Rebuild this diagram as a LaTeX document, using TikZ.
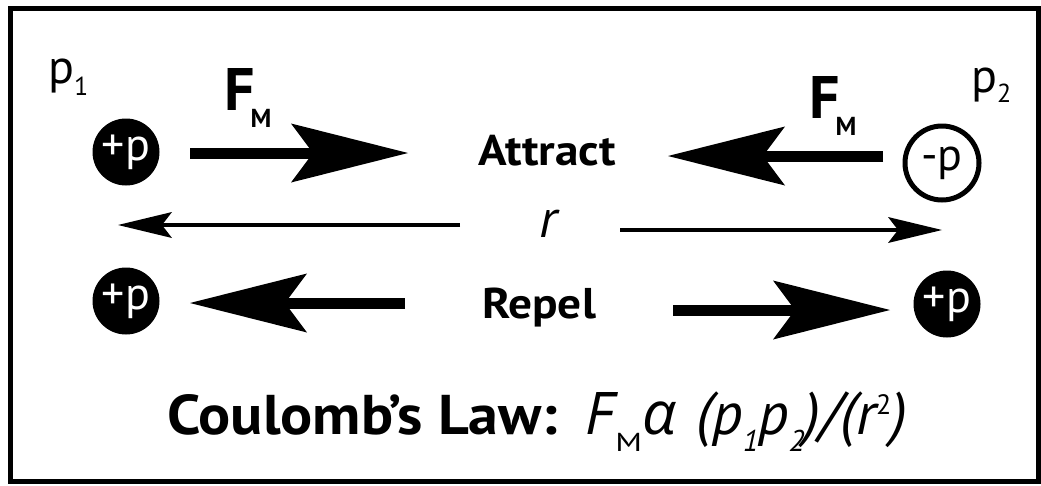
\documentclass[tikz,border=0pt]{standalone}
\usepackage{fontspec}
\setmainfont{PT Sans}
\newfontfamily\grk{Open Sans}
\usetikzlibrary{arrows.meta}
\tikzset{
  bigarrow/.style={line width=11pt, -{Stealth[length=117pt,width=59pt,inset=22pt,line width=0pt]}},
  thinarrow/.style={line width=4.5pt, -{Stealth[length=54pt,width=26pt,inset=10pt,line width=0pt]}},
  poscharge/.style={circle, fill=black, text=white, minimum size=67pt, inner sep=0pt, font=\fontsize{46}{46}\selectfont},
  negcharge/.style={circle, draw=black, line width=5pt, minimum size=74pt, inner sep=0pt, font=\fontsize{46}{46}\selectfont},
  lbl/.style={inner sep=0pt, anchor=base, font=\bfseries\fontsize{43}{45}\selectfont},
  plabel/.style={inner sep=0pt, anchor=base west, font=\fontsize{48}{50}\selectfont},
  flabel/.style={inner sep=0pt, anchor=base west, font=\bfseries\fontsize{60}{60}\selectfont},
}
\newcommand{\subM}{\kern-4pt\raisebox{-17pt}{\fontsize{26}{26}\selectfont M}}
\begin{document}
\begin{tikzpicture}[x=1pt,y=-1pt]
\useasboundingbox (0,0) rectangle (1041,485);
\draw[line width=5pt] (10.5,8) rectangle (1038.5,481);
% charges
\node[poscharge] (c1) at (126,152) {+p};
\node[negcharge] (c2) at (942,163) {-p};
\node[poscharge] (c3) at (126,301) {+p};
\node[poscharge] (c4) at (947,304) {+p};
% labels
\node[plabel] (lp1) at (48,83) {p\raisebox{-12pt}{\fontsize{26}{26}\selectfont 1}};
\node[plabel] (lp2) at (971,92) {p\raisebox{-10pt}{\fontsize{26}{26}\selectfont 2}};
\node[flabel] (f1) at (224,110) {F\subM};
\node[flabel] (f2) at (809,118) {F\subM};
\node[lbl] (att) at (547,165) {\scalebox{1.1}[1]{Attract}};
\node[lbl] (rep) at (539,318) {\scalebox{1.1}[1]{Repel}};
\node[inner sep=0pt, anchor=base, font=\itshape\fontsize{54}{54}\selectfont] (r) at (548,237) {r};
% arrows
\coordinate (a1s) at (190,153); \coordinate (a1e) at (408,153);
\coordinate (a2s) at (883,156); \coordinate (a2e) at (668,156);
\coordinate (r1s) at (460,225); \coordinate (r1e) at (118,225);
\coordinate (r2s) at (620,230); \coordinate (r2e) at (942,230);
\coordinate (b1s) at (405,303); \coordinate (b1e) at (190,303);
\coordinate (b2s) at (673,310); \coordinate (b2e) at (890,310);
\draw[bigarrow] (a1s) -- (a1e);
\draw[bigarrow] (a2s) -- (a2e);
\draw[thinarrow] (r1s) -- (r1e);
\draw[thinarrow] (r2s) -- (r2e);
\draw[bigarrow] (b1s) -- (b1e);
\draw[bigarrow] (b2s) -- (b2e);
% law
\node[inner sep=0pt, anchor=base west, font=\fontsize{56}{56}\selectfont] (law) at (167,434)
  {\scalebox{1.07}[1]{\bfseries Coulomb’s Law:}\hspace{28pt}\itshape\fontsize{60}{60}\selectfont F\raisebox{-17pt}{\upshape\fontsize{26}{26}\selectfont\scalebox{1.3}[1]{M}}{\grk α}\hspace{4pt} (p\raisebox{-17pt}{\fontsize{30}{30}\selectfont 1}p\raisebox{-17pt}{\fontsize{30}{30}\selectfont 2})/(r\raisebox{20pt}{\upshape\fontsize{28}{28}\selectfont 2})};
\end{tikzpicture}
\end{document}
